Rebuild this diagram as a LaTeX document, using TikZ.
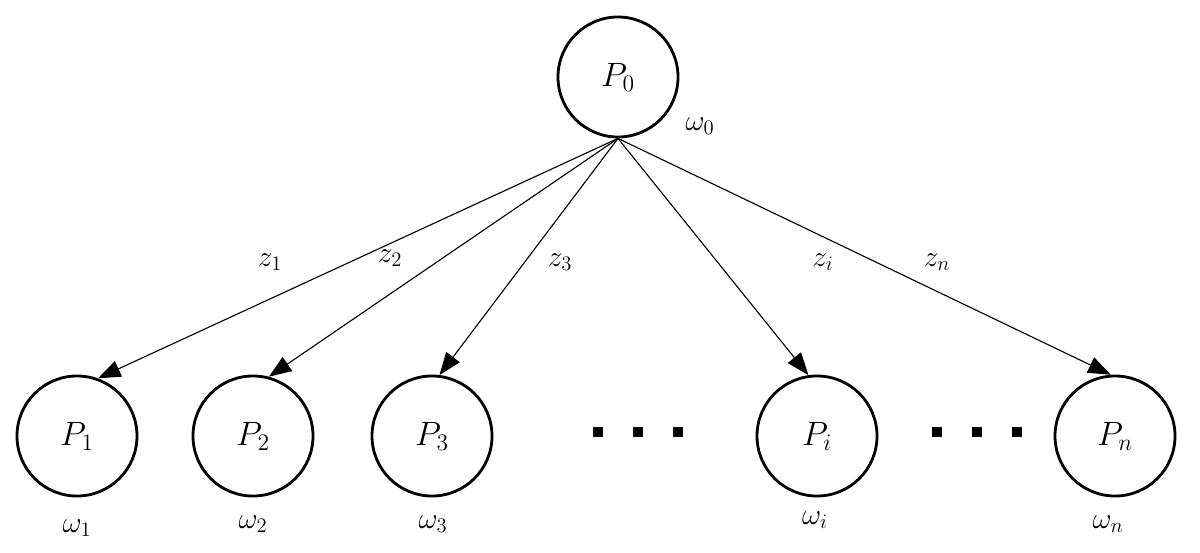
\RequirePackage{fix-cm}
\documentclass[tikz,border=0pt]{standalone}
\usetikzlibrary{arrows.meta}
\begin{document}
\begin{tikzpicture}[x=0.025cm,y=-0.025cm,
  pn/.style={circle,draw,line width=2pt,minimum size=3cm,inner sep=0pt,font=\fontsize{24}{28}\selectfont},
  lab/.style={font=\fontsize{21}{25}\selectfont},
  ar/.style={line width=0.8pt,-{Triangle[length=16pt,width=12pt]}},
  dot/.style={rectangle,fill,inner sep=0pt,minimum size=7pt}]
\path[use as bounding box] (0,0) rectangle (1200,552);
\node[pn] (P0) at (618,77) {$P_0$};
\node[pn] (P1) at (77,436) {$P_1$};
\node[pn] (P2) at (253,436) {$P_2$};
\node[pn] (P3) at (432,436) {$P_3$};
\node[pn] (Pi) at (817,436) {$P_i$};
\node[pn] (Pn) at (1115,436) {$P_n$};
\foreach \t/\a in {P1/70,P2/75,P3/83,Pi/98,Pn/94} \draw[ar] (P0.south) -- (\t.\a);
\node[lab] (w0) at (700,126) {$\omega_0$};
\node[lab] (w1) at (77,528) {$\omega_1$};
\node[lab] (w2) at (253,524) {$\omega_2$};
\node[lab] (w3) at (433,524) {$\omega_3$};
\node[lab] (wi) at (815,520) {$\omega_i$};
\node[lab] (wn) at (1108,524) {$\omega_n$};
\node[lab] (z1) at (270,262) {$z_1$};
\node[lab] (z2) at (390,258) {$z_2$};
\node[lab] (z3) at (560,262) {$z_3$};
\node[lab] (zi) at (823,262) {$z_i$};
\node[lab] (zn) at (937,262) {$z_n$};
\foreach \x [count=\k] in {598,638,678} \node[dot] (da\k) at (\x,432) {};
\foreach \x [count=\k] in {937,977,1017} \node[dot] (db\k) at (\x,432) {};
\end{tikzpicture}
\end{document}
